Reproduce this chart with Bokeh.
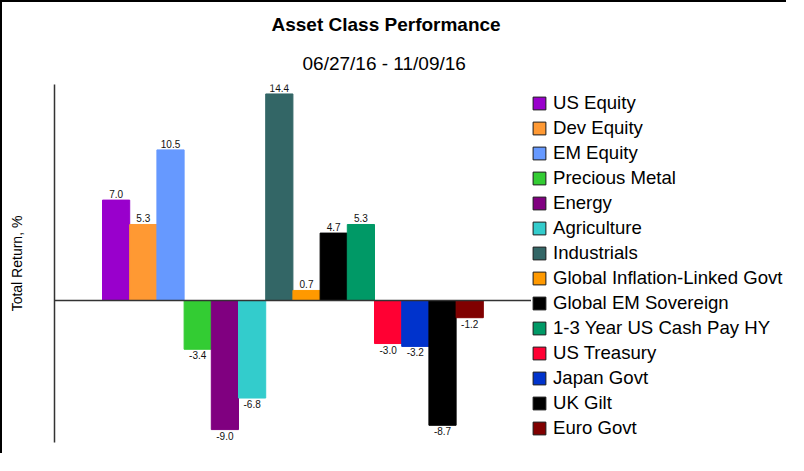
from bokeh.plotting import figure
from bokeh.models import (ColumnDataSource, Range1d, FixedTicker, Legend, LegendItem,
                          Title, Span)
from bokeh.embed import file_html
from bokeh.resources import INLINE

# ---- data ----
categories = ["US Equity", "Dev Equity", "EM Equity", "Precious Metal", "Energy",
              "Agriculture", "Industrials", "Global Inflation-Linked Govt",
              "Global EM Sovereign", "1-3 Year US Cash Pay HY", "US Treasury",
              "Japan Govt", "UK Gilt", "Euro Govt"]
returns = [7.0, 5.3, 10.5, -3.4, -9.0, -6.8, 14.4, 0.7, 4.7, 5.3, -3.0, -3.2, -8.7, -1.2]
colors = ["#9900CC", "#FF9933", "#6699FF", "#33CC33", "#800080", "#33CCCC", "#336666",
          "#FF9900", "#000000", "#009966", "#FF0033", "#0033CC", "#000000", "#800000"]
title_text = "Asset Class Performance"
subtitle_text = "06/27/16 - 11/09/16"
y_label = "Total Return, %"

FONT = "Liberation Sans"

xs = list(range(len(categories)))
src = ColumnDataSource(dict(x=xs, top=returns, color=colors, cat=categories))

p = figure(width=786, height=453, output_backend="svg", toolbar_location=None,
           x_axis_location=None, x_range=Range1d(-2.265, 24.72),
           y_range=Range1d(-9.9, 15.06),
           min_border_left=52, min_border_top=82, min_border_bottom=13,
           min_border_right=0)
p.styles = {"border-top": "2px solid #000000", "border-left": "2px solid #000000"}
p.outline_line_color = None
p.grid.visible = False

# y axis: line only, with a label
ya = p.yaxis[0]
ya.ticker = FixedTicker(ticks=[])
ya.major_tick_line_color = None
ya.minor_tick_line_color = None
ya.major_tick_out = 0
ya.major_tick_in = 0
ya.major_label_standoff = 0
ya.major_label_text_font_size = "0px"
ya.axis_line_color = "#333333"
ya.axis_line_width = 1.5
ya.axis_label = y_label
ya.axis_label_text_font = FONT
ya.axis_label_text_font_size = "14px"
ya.axis_label_text_font_style = "normal"
ya.axis_label_text_color = "#000000"
ya.axis_label_standoff = 30

# zero line (the legend's white background hides it on the right)
p.add_layout(Span(location=0, dimension="width", line_color="#333333", line_width=1.5))

# bars
p.vbar(x="x", top="top", bottom=0, width=1.0, fill_color="color", line_color="color",
       line_width=1, source=src)

# value labels
pos = [i for i, v in enumerate(returns) if v >= 0]
neg = [i for i, v in enumerate(returns) if v < 0]
pos_src = ColumnDataSource(dict(x=[xs[i] for i in pos], y=[returns[i] for i in pos],
                                t=["%.1f" % returns[i] for i in pos]))
neg_src = ColumnDataSource(dict(x=[xs[i] for i in neg], y=[returns[i] for i in neg],
                                t=["%.1f" % returns[i] for i in neg]))
p.text(x="x", y="y", text="t", source=pos_src, text_align="center",
       text_baseline="bottom", y_offset=-2, text_font_size="10px",
       text_font={"value": FONT}, text_color="#111111")
p.text(x="x", y="y", text="t", source=neg_src, text_align="center",
       text_baseline="top", y_offset=2, text_font_size="10px",
       text_font={"value": FONT}, text_color="#111111")

# legend swatches (dummy zero-size renderers so swatches get a dark border)
items = []
for c, col in zip(categories, colors):
    r = p.vbar(x=[0], top=[0], bottom=[0], width=0, fill_color=col,
               line_color="#1a1a1a", line_width=1)
    items.append(LegendItem(label=c, renderers=[r]))
legend = Legend(items=items, location=(477, 3), glyph_width=16, glyph_height=16,
                label_text_font_size="18.6px", label_text_font=FONT,
                label_text_color="#000000", spacing=2, padding=3, margin=0,
                border_line_color=None, background_fill_color="#ffffff",
                background_fill_alpha=1, label_standoff=6, label_height=23,
                label_width=265)
p.add_layout(legend)

# titles (subtitle first: it sits nearest the frame)
p.add_layout(Title(text=subtitle_text, align="left", offset=248, standoff=19,
                   vertical_align="middle",
                   text_font=FONT, text_font_size="19px", text_font_style="normal",
                   text_color="#000000"), "above")
p.add_layout(Title(text=title_text, align="left", offset=217, standoff=14,
                   vertical_align="middle",
                   text_font=FONT, text_font_size="19px", text_font_style="bold",
                   text_color="#000000"), "above")

open("out.html", "w").write(file_html(p, INLINE))
